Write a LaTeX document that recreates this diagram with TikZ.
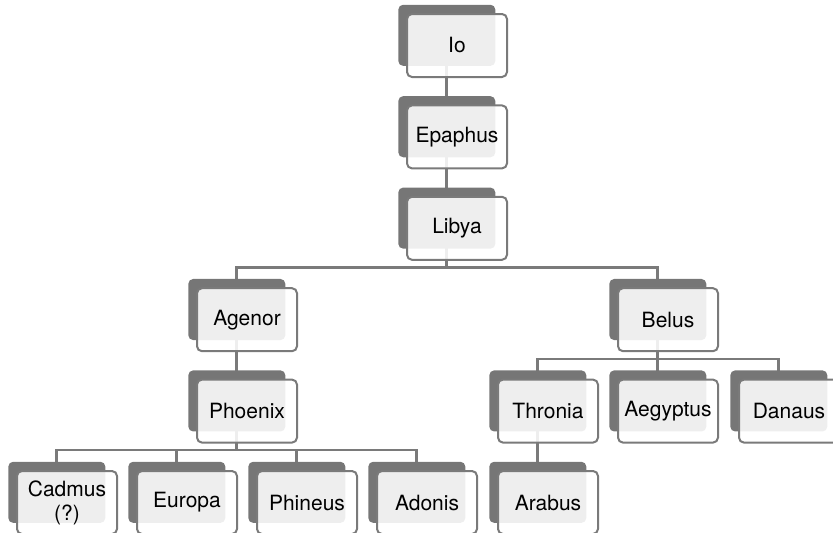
\documentclass[tikz,border=0pt]{standalone}
\usepackage{fontspec}
\setmainfont{TeX Gyre Heros}
\usetikzlibrary{shadows,backgrounds}

\definecolor{boxgray}{HTML}{767676}
\definecolor{linegray}{HTML}{7A7A7A}

\begin{document}
\begin{tikzpicture}[x=1pt,y=-1pt,
    person/.style={draw=linegray, line width=2pt, rounded corners=5pt,
        fill=white, fill opacity=0.88, text opacity=1,
        minimum width=100pt, minimum height=63pt, inner sep=2pt, align=center,
        font=\fontsize{21}{24}\selectfont,
        general shadow={fill=boxgray, draw=none, fill opacity=1,
            shadow xshift=-10.5pt, shadow yshift=10.5pt, shadow scale=0.97}},
    link/.style={draw=linegray, line width=2.4pt}]
    \useasboundingbox (0,0) rectangle (833,533);

    % line of descent
    \node[person] (io) at (457,45.5) {Io};
    \node[person] (epaphus) at (457,136.9) {Epaphus};
    \node[person] (libya) at (457,228.3) {Libya};

    \node[person] (agenor) at (247,319.7) {Agenor};
    \node[person] (belus) at (668,319.7) {Belus};

    \node[person] (phoenix) at (247,411.1) {Phoenix};
    \node[person] (thronia) at (548,411.1) {Thronia};
    \node[person] (aegyptus) at (668,411.1) {Aegyptus};
    \node[person] (danaus) at (789,411.1) {Danaus};

    \node[person] (cadmus) at (67,502.5) {Cadmus\\(?)};
    \node[person] (europa) at (187,502.5) {Europa};
    \node[person] (phineus) at (307,502.5) {Phineus};
    \node[person] (adonis) at (427,502.5) {Adonis};
    \node[person] (arabus) at (548,502.5) {Arabus};

    % connectors behind the boxes
    \begin{scope}[on background layer]
        \draw[link]([xshift=-10.5pt]io.center)--([xshift=-10.5pt]epaphus.center);
        \draw[link]([xshift=-10.5pt]epaphus.center)--([xshift=-10.5pt]libya.center);
        \draw[link]([xshift=-10.5pt]libya.center)--++(0,39)-|([xshift=-10.5pt]agenor.center);
        \draw[link]([xshift=-10.5pt]libya.center)--++(0,39)-|([xshift=-10.5pt]belus.center);
        \draw[link]([xshift=-10.5pt]agenor.center)--([xshift=-10.5pt]phoenix.center);
        \draw[link]([xshift=-10.5pt]belus.center)--++(0,39)-|([xshift=-10.5pt]thronia.center);
        \draw[link]([xshift=-10.5pt]belus.center)--([xshift=-10.5pt]aegyptus.center);
        \draw[link]([xshift=-10.5pt]belus.center)--++(0,39)-|([xshift=-10.5pt]danaus.center);
        \draw[link]([xshift=-10.5pt]thronia.center)--([xshift=-10.5pt]arabus.center);
        \draw[link]([xshift=-10.5pt]phoenix.center)--++(0,39)-|([xshift=-10.5pt]cadmus.center);
        \draw[link]([xshift=-10.5pt]phoenix.center)--++(0,39)-|([xshift=-10.5pt]europa.center);
        \draw[link]([xshift=-10.5pt]phoenix.center)--++(0,39)-|([xshift=-10.5pt]phineus.center);
        \draw[link]([xshift=-10.5pt]phoenix.center)--++(0,39)-|([xshift=-10.5pt]adonis.center);
    \end{scope}
\end{tikzpicture}
\end{document}
